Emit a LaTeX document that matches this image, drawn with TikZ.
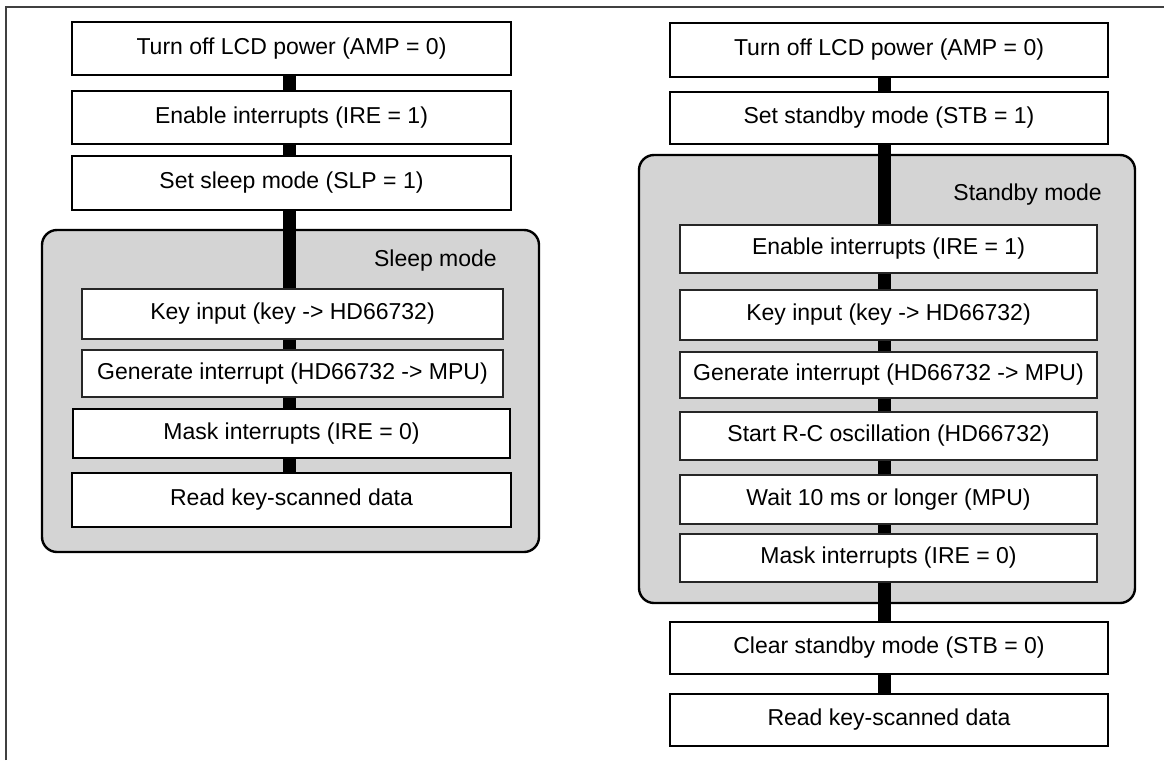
\documentclass[tikz,border=0pt]{standalone}
\usepackage{fontspec}
\setmainfont{Liberation Sans}
\begin{document}
\begin{tikzpicture}[x=1pt,y=-1pt,
  txt/.style={font=\fontsize{23}{27}\selectfont, text=black},
  topbox/.style={txt, draw=black, line width=2.4pt, fill=white, inner sep=0pt, minimum width=438pt},
  inbox/.style={txt, draw=black!85, line width=1.1pt, fill=white, inner sep=0pt, minimum width=419pt},
  region/.style={draw=black, line width=2.4pt, fill=black!17, rounded corners=15pt},
  bar/.style={line width=13pt, black},
  lbl/.style={txt, anchor=east, inner sep=0pt}
]
\useasboundingbox (0,0) rectangle (1164,760);
\fill[white] (0,0) rectangle (1164,760);
% frame
\draw[line width=1.6pt, black!75] (6,760) -- (6,7) -- (1164,7);

% regions
\draw[region] (42,230) rectangle (539,552);
\draw[region] (639,155) rectangle (1135,603);
\node[lbl] (sleeplbl) at (497,261) {Sleep mode};
\node[lbl] (stbylbl) at (1102,195) {Standby mode};

\coordinate (barL) at (289,0);
\coordinate (barR) at (884,0);

% left column
\node[topbox, minimum width=439pt, minimum height=53pt] (L1) at (291.5,48.5) {Turn off LCD power (AMP = 0)};
\node[topbox, minimum width=439pt, minimum height=53pt] (L2) at (291.5,117.5) {Enable interrupts (IRE = 1)};
\node[topbox, minimum width=439pt, minimum height=54pt] (L3) at (291.5,183) {Set sleep mode (SLP = 1)};
\node[inbox, minimum width=421pt, minimum height=50pt] (L4) at (292.5,314) {Key input (key -> HD66732)};
\node[inbox, minimum width=421pt, minimum height=47pt] (L5) at (292.5,373.5) {Generate interrupt (HD66732 -> MPU)};
\node[topbox, minimum width=437pt, minimum height=49pt] (L6) at (291.5,433.5) {Mask interrupts (IRE = 0)};
\node[topbox, minimum width=439pt, minimum height=54pt] (L7) at (291.5,500) {Read key-scanned data};

% right column
\node[topbox, minimum height=54pt] (R1) at (889,50) {Turn off LCD power (AMP = 0)};
\node[topbox, minimum height=52pt] (R2) at (889,118) {Set standby mode (STB = 1)};
\node[inbox, minimum width=417pt, minimum height=48pt] (R3) at (888.5,249) {Enable interrupts (IRE = 1)};
\node[inbox, minimum width=417pt, minimum height=50pt] (R4) at (888.5,315) {Key input (key -> HD66732)};
\node[inbox, minimum width=417pt, minimum height=46pt] (R5) at (888.5,375) {Generate interrupt (HD66732 -> MPU)};
\node[inbox, minimum width=417pt, minimum height=48pt] (R6) at (888.5,436) {Start R-C oscillation (HD66732)};
\node[inbox, minimum width=417pt, minimum height=49pt] (R7) at (888.5,499.5) {Wait 10 ms or longer (MPU)};
\node[inbox, minimum width=417pt, minimum height=48pt] (R8) at (888.5,558) {Mask interrupts (IRE = 0)};
\node[topbox, minimum height=52pt] (R9) at (889,648) {Clear standby mode (STB = 0)};
\node[topbox, minimum height=52pt] (R10) at (889,720) {Read key-scanned data};

% bars left
\foreach \a/\b in {L1/L2, L2/L3, L3/L4, L4/L5, L5/L6, L6/L7}
  \draw[bar] (\a.south -| barL) -- (\b.north -| barL);
% bars right
\foreach \a/\b in {R1/R2, R2/R3, R3/R4, R4/R5, R5/R6, R6/R7, R7/R8, R8/R9, R9/R10}
  \draw[bar] (\a.south -| barR) -- (\b.north -| barR);
\end{tikzpicture}
\end{document}
